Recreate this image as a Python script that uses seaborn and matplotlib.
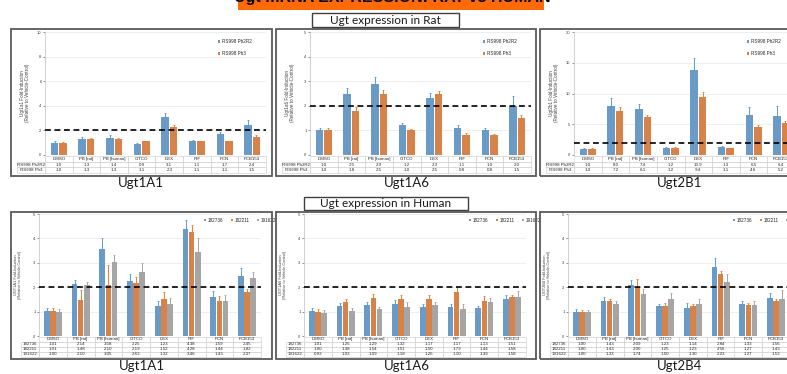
import numpy as np
import pandas as pd
import matplotlib
matplotlib.use("Agg")
import matplotlib.pyplot as plt
import seaborn as sns
from matplotlib.patches import Rectangle

# ---------------- data ----------------
categories = ["DMSO", "PB [rat]", "PB [human]", "CITCO", "DEX", "RIF", "PCN", "PCB153"]
rat_series = ["RS998 Ph2R2", "RS998 Ph3"]
human_series = ["182736", "182211", "191622"]

rat_1a1_ph2r2 = [1.0, 1.3, 1.4, 0.9, 3.1, 1.1, 1.7, 2.4]
rat_1a1_ph3 = [1.0, 1.3, 1.3, 1.1, 2.3, 1.1, 1.1, 1.5]
rat_1a1_err_ph2r2 = [0.1, 0.15, 0.2, 0.06, 0.3, 0.1, 0.2, 0.45]
rat_1a1_err_ph3 = [0.05, 0.05, 0.1, 0.05, 0.15, 0.05, 0.05, 0.1]

rat_1a6_ph2r2 = [1.0, 2.5, 2.9, 1.2, 2.3, 1.1, 1.0, 2.0]
rat_1a6_ph3 = [1.0, 1.8, 2.5, 1.0, 2.5, 0.8, 0.8, 1.5]
rat_1a6_err_ph2r2 = [0.1, 0.22, 0.28, 0.1, 0.22, 0.1, 0.1, 0.38]
rat_1a6_err_ph3 = [0.08, 0.15, 0.15, 0.05, 0.1, 0.08, 0.04, 0.12]

rat_2b1_ph2r2 = [1.0, 8.0, 7.4, 1.2, 13.9, 1.3, 6.5, 6.4]
rat_2b1_ph3 = [1.0, 7.2, 6.1, 1.2, 9.4, 1.1, 4.6, 5.2]
rat_2b1_err_ph2r2 = [0.2, 1.2, 0.9, 0.15, 1.9, 0.1, 1.3, 1.5]
rat_2b1_err_ph3 = [0.15, 0.6, 0.4, 0.1, 0.8, 0.1, 0.3, 0.4]

hum_1a1_s1 = [1.01, 2.14, 3.58, 2.25, 1.23, 4.38, 1.59, 2.45]
hum_1a1_s2 = [1.01, 1.48, 2.10, 2.19, 1.52, 4.28, 1.44, 1.82]
hum_1a1_s3 = [1.00, 2.10, 3.05, 2.63, 1.32, 3.46, 1.43, 2.37]
hum_1a1_e1 = [0.12, 0.15, 0.42, 0.3, 0.2, 0.38, 0.25, 0.35]
hum_1a1_e2 = [0.12, 0.4, 0.8, 0.22, 0.3, 0.28, 0.2, 0.12]
hum_1a1_e3 = [0.1, 0.1, 0.28, 0.38, 0.22, 0.55, 0.25, 0.25]

hum_1a6_s1 = [1.01, 1.25, 1.29, 1.32, 1.17, 1.17, 1.13, 1.51]
hum_1a6_s2 = [1.00, 1.38, 1.54, 1.51, 1.50, 1.79, 1.44, 1.58]
hum_1a6_s3 = [0.93, 1.03, 1.09, 1.18, 1.26, 1.10, 1.39, 1.58]
hum_1a6_e1 = [0.12, 0.1, 0.12, 0.15, 0.15, 0.15, 0.1, 0.15]
hum_1a6_e2 = [0.1, 0.15, 0.18, 0.15, 0.2, 0.2, 0.2, 0.1]
hum_1a6_e3 = [0.12, 0.1, 0.08, 0.2, 0.12, 0.2, 0.18, 0.25]

hum_2b4_s1 = [1.00, 1.43, 2.09, 1.23, 1.14, 2.84, 1.33, 1.56]
hum_2b4_s2 = [1.00, 1.43, 2.00, 1.25, 1.23, 2.56, 1.27, 1.43]
hum_2b4_s3 = [1.00, 1.33, 1.74, 1.50, 1.30, 2.23, 1.27, 1.53]
hum_2b4_e1 = [0.1, 0.15, 0.2, 0.1, 0.2, 0.35, 0.1, 0.2]
hum_2b4_e2 = [0.08, 0.1, 0.35, 0.1, 0.1, 0.1, 0.1, 0.1]
hum_2b4_e3 = [0.08, 0.1, 0.2, 0.25, 0.2, 0.3, 0.15, 0.35]

rat_colors = ["#5B9BD5", "#ED7D31"]
human_colors = ["#5B9BD5", "#ED7D31", "#A5A5A5"]

# ---------------- figure ----------------
sns.set_theme(style="white")
plt.rcParams["font.family"] = ["Liberation Sans", "DejaVu Sans"]

W, H = 787, 374
fig = plt.figure(figsize=(W / 100, H / 100), dpi=100)
fig.patch.set_facecolor("white")


def fx(x):
    return x / W


def fy(y):
    return 1 - y / H


def add_ax(x0, x1, ytop, ybot):
    return fig.add_axes([fx(x0), fy(ybot), (x1 - x0) / W, (ybot - ytop) / H])


def frame(x0, x1, y0, y1, lw=1.3, ec="#595959", fc="none", z=0):
    fig.patches.append(Rectangle((fx(x0), fy(y1)), (x1 - x0) / W, (y1 - y0) / H,
                                 transform=fig.transFigure, fill=(fc != "none"),
                                 facecolor=fc, edgecolor=ec, lw=lw, zorder=z))


def panel(ax, series, values, errors, colors, ymax, ystep, fmt, width, gap,
          tbl_bottom, tbl_h, rowlab_w, legend_anchor, legend_ncol):
    rows = []
    for s, vals in zip(series, values):
        for c, v in zip(categories, vals):
            rows.append({"cat": c, "val": v, "series": s})
    df = pd.DataFrame(rows)
    sns.barplot(data=df, x="cat", y="val", hue="series", order=categories,
                hue_order=series, palette=colors, errorbar=None, width=width,
                gap=gap, linewidth=0, ax=ax, zorder=3)
    for cont, err, col in zip(ax.containers, errors, colors):
        xs = [b.get_x() + b.get_width() / 2 for b in cont]
        hs = [b.get_height() for b in cont]
        ax.errorbar(xs, hs, yerr=[np.zeros(len(err)), err], fmt="none",
                    ecolor=col, elinewidth=0.7, capsize=1.0, capthick=0.6, zorder=4)
    ax.axhline(2, color="black", ls=(0, (3.5, 2.2)), lw=1.2, zorder=5, clip_on=False)
    ax.set_xlim(-0.5, 7.5)
    ax.set_ylim(0, ymax)
    ax.set_yticks(np.arange(0, ymax + 0.001, ystep))
    ax.yaxis.grid(True, color="#e8e8e8", lw=0.5)
    ax.set_axisbelow(True)
    ax.set_xlabel("")
    ax.set_ylabel("")
    ax.set_xticks([])
    ax.tick_params(axis="y", labelsize=3, length=1.5, width=0.4, pad=1,
                   colors="#404040", left=True)
    for sp in ["top", "right", "bottom"]:
        ax.spines[sp].set_visible(False)
    ax.spines["left"].set_color("#bfbfbf")
    ax.spines["left"].set_linewidth(0.5)
    ax.set_facecolor("none")

    # data table below the axis: first column holds the series names
    cell_text = [[name] + [fmt.format(v) for v in vals] for name, vals in zip(series, values)]
    col_w = [rowlab_w] + [1 / len(categories)] * len(categories)
    tab = ax.table(cellText=cell_text, colLabels=[""] + categories, colWidths=col_w,
                   cellLoc="center", bbox=[-rowlab_w, tbl_bottom, 1 + rowlab_w, tbl_h])
    tab.auto_set_font_size(False)
    tab.set_fontsize(3.2)
    for (r, c), cell in tab.get_celld().items():
        cell.set_edgecolor("#c8c8c8")
        cell.set_linewidth(0.4)
        cell.get_text().set_color("#262626")
        cell.PAD = 0.05
        if c == 0:
            cell._loc = "left"
            if r == 0:
                cell.set_linewidth(0)
    sns.move_legend(ax, "upper left", bbox_to_anchor=legend_anchor, ncol=legend_ncol,
                    frameon=False, fontsize=3.3, title=None, handlelength=0.55,
                    handleheight=0.55, handletextpad=0.3, labelspacing=1.4,
                    columnspacing=1.6, borderaxespad=0)


# ---------------- panel frames ----------------
for x0, x1 in [(11, 272), (276, 536), (540, 805)]:
    frame(x0, x1, 29, 176)
for x0, x1 in [(11, 272), (276, 536), (540, 805)]:
    frame(x0, x1, 212, 359)

# ---------------- top row: rat ----------------
rat_panels = [
    (45, [rat_1a1_ph2r2, rat_1a1_ph3], [rat_1a1_err_ph2r2, rat_1a1_err_ph3], 10, 2,
     "Ugt1a1 Fold-Induction\n(Relative to Vehicle-Control)", "Ugt1A1", 141),
    (310, [rat_1a6_ph2r2, rat_1a6_ph3], [rat_1a6_err_ph2r2, rat_1a6_err_ph3], 5, 1,
     "Ugt1a6 Fold-Induction\n(Relative to Vehicle-Control)", "Ugt1A6", 407),
    (574, [rat_2b1_ph2r2, rat_2b1_ph3], [rat_2b1_err_ph2r2, rat_2b1_err_ph3], 20, 5,
     "Ugt2b1 Fold-Induction\n(Relative to Vehicle-Control)", "Ugt2B1", 680),
]
for x0, vals, errs, ymax, ystep, ylab, name, cx in rat_panels:
    ax = add_ax(x0, x0 + 221, 32, 155)
    panel(ax, rat_series, vals, errs, rat_colors, ymax, ystep, "{:.1f}", 0.62, 0.12,
          -0.146, 0.134, 0.127, ((216 - 45) / 221, 0.955), 1)
    fig.text(fx(x0 - 20), fy(93), ylab, rotation=90, ha="center", va="center",
             fontsize=3.3, color="#404040", linespacing=1.1)
    fig.text(fx(cx), fy(183), name, ha="center", va="center", fontsize=9.5,
             family=["Lato", "DejaVu Sans"], color="#1a1a1a")

# ---------------- bottom row: human ----------------
hum_panels = [
    (39, [hum_1a1_s1, hum_1a1_s2, hum_1a1_s3], [hum_1a1_e1, hum_1a1_e2, hum_1a1_e3],
     "UGT1A1 Fold-Induction\n(Relative to Vehicle-Control)", "Ugt1A1", 142),
    (304, [hum_1a6_s1, hum_1a6_s2, hum_1a6_s3], [hum_1a6_e1, hum_1a6_e2, hum_1a6_e3],
     "UGT1A6 Fold-Induction\n(Relative to Vehicle-Control)", "Ugt1A6", 407),
    (568, [hum_2b4_s1, hum_2b4_s2, hum_2b4_s3], [hum_2b4_e1, hum_2b4_e2, hum_2b4_e3],
     "UGT2B4 Fold-Induction\n(Relative to Vehicle-Control)", "Ugt2B4", 680),
]
for x0, vals, errs, ylab, name, cx in hum_panels:
    ax = add_ax(x0, x0 + 222, 214, 336)
    panel(ax, human_series, vals, errs, human_colors, 5, 1, "{:.2f}", 0.66, 0.08,
          -0.172, 0.164, 0.081, ((202 - 39) / 222, 0.985), 3)
    fig.text(fx(x0 - 21), fy(275), ylab, rotation=90, ha="center", va="center",
             fontsize=2.8, color="#404040", linespacing=1.1)
    fig.text(fx(cx), fy(366), name, ha="center", va="center", fontsize=9.5,
             family=["Lato", "DejaVu Sans"], color="#1a1a1a")

# ---------------- banner & section boxes ----------------
frame(238, 544, -2, 9.5, lw=0, ec="none", fc="#FF6A08", z=1)
fig.text(fx(392), fy(2.3), "Ugt mRNA EXPRESSION: RAT vs HUMAN", ha="center",
         va="baseline", fontsize=11.5, fontweight="bold", color="black", zorder=2)

frame(312, 459, 13, 27, lw=1.0, ec="#404040", fc="white", z=1)
fig.text(fx(385.5), fy(20.5), "Ugt expression in Rat", ha="center", va="center",
         fontsize=8.5, family=["Lato", "DejaVu Sans"], color="#1a1a1a", zorder=2)
frame(304, 468, 197, 210, lw=1.0, ec="#404040", fc="white", z=1)
fig.text(fx(386), fy(203.5), "Ugt expression in Human", ha="center", va="center",
         fontsize=8.5, family=["Lato", "DejaVu Sans"], color="#1a1a1a", zorder=2)

fig.savefig("out.png", dpi=100)
